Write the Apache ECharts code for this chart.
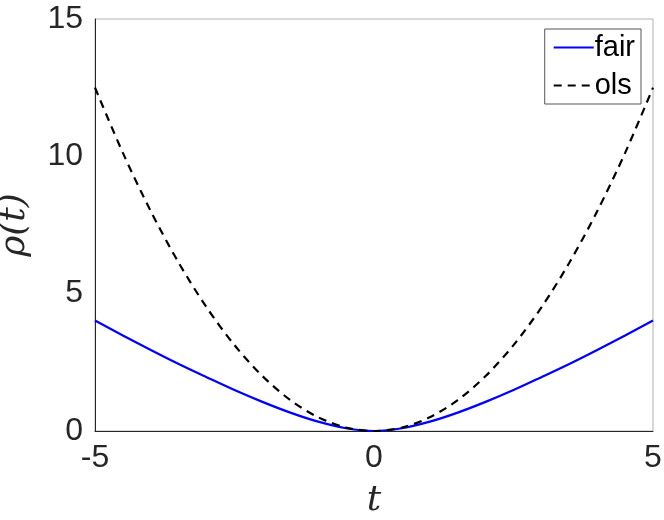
<!DOCTYPE html>
<html>
<head>
<meta charset="utf-8">
<script src="https://cdn.jsdelivr.net/npm/echarts@6/dist/echarts.min.js"></script>
<style>
  html, body { margin: 0; padding: 0; background: #fff; }
  #chart { width: 664px; height: 520px; }
</style>
</head>
<body>
<div id="chart"></div>
<script>
// values
const tValues = [-5, -4.5, -4, -3.5, -3, -2.5, -2, -1.5, -1, -0.5, 0, 0.5, 1, 1.5, 2, 2.5, 3, 3.5, 4, 4.5, 5]
const fairValues = [4.02, 3.48, 2.95, 2.44, 1.96, 1.49, 1.06, 0.67, 0.34, 0.10, 0, 0.10, 0.34, 0.67, 1.06, 1.49, 1.96, 2.44, 2.95, 3.48, 4.02]
const olsValues = [12.5, 10.125, 8, 6.125, 4.5, 3.125, 2, 1.125, 0.5, 0.125, 0, 0.125, 0.5, 1.125, 2, 3.125, 4.5, 6.125, 8, 10.125, 12.5]
const xTicks = [-5, 0, 5]
const yTicks = [0, 5, 10, 15]

const chart = echarts.init(document.getElementById('chart'))
const tickFont = { fontFamily: 'Liberation Sans, Arial, sans-serif', fontSize: 32, color: '#262626' }
const nameFont = { fontFamily: 'DejaVu Serif, serif', fontStyle: 'italic', fontSize: 36, color: '#262626' }

const option = {
  animation: false,
  grid: {
    left: 95, right: 11, top: 19, bottom: 89,
    containLabel: false, outerBoundsMode: 'none',
    show: true, borderColor: '#b0b0b0', borderWidth: 1
  },
  legend: {
    right: 23, top: 29,
    orient: 'vertical',
    itemWidth: 40, itemHeight: 14, itemGap: 9,
    padding: [4, 6, 4, 8],
    borderColor: '#555', borderWidth: 1,
    backgroundColor: '#fff',
    itemStyle: { opacity: 0 },
    textStyle: { fontFamily: 'Liberation Sans, Arial, sans-serif', fontSize: 29, color: '#000', padding: [0, 0, 0, -4] },
    data: ['fair', 'ols']
  },
  xAxis: {
    type: 'value', min: -5, max: 5, interval: 5,
    name: 't', nameLocation: 'middle', nameGap: 52,
    nameTextStyle: nameFont,
    axisLine: { onZero: false, lineStyle: { color: '#262626', width: 1 } },
    axisTick: { show: false },
    splitLine: { show: false },
    axisLabel: Object.assign({ margin: 11, formatter: v => xTicks.includes(v) ? String(v) : '' }, tickFont)
  },
  yAxis: {
    type: 'value', min: 0, max: 15, interval: 5,
    name: 'ρ(t)', nameLocation: 'middle', nameGap: 62,
    nameTextStyle: nameFont,
    axisLine: { show: true, onZero: false, lineStyle: { color: '#262626', width: 1 } },
    axisTick: { show: false },
    splitLine: { show: false },
    axisLabel: Object.assign({ margin: 12, formatter: v => yTicks.includes(v) ? String(v) : '' }, tickFont)
  },
  series: [
    {
      name: 'fair', type: 'line', smooth: 0.3, symbol: 'none',
      data: tValues.map((t, i) => [t, fairValues[i]]),
      lineStyle: { color: '#0000ff', width: 2.2 },
      itemStyle: { color: '#0000ff' }
    },
    {
      name: 'ols', type: 'line', smooth: 0.3, symbol: 'none',
      data: tValues.map((t, i) => [t, olsValues[i]]),
      lineStyle: { color: '#000', width: 2.2, type: [8, 6] },
      itemStyle: { color: '#000' }
    }
  ]
}
chart.setOption(option)
</script>
</body>
</html>
